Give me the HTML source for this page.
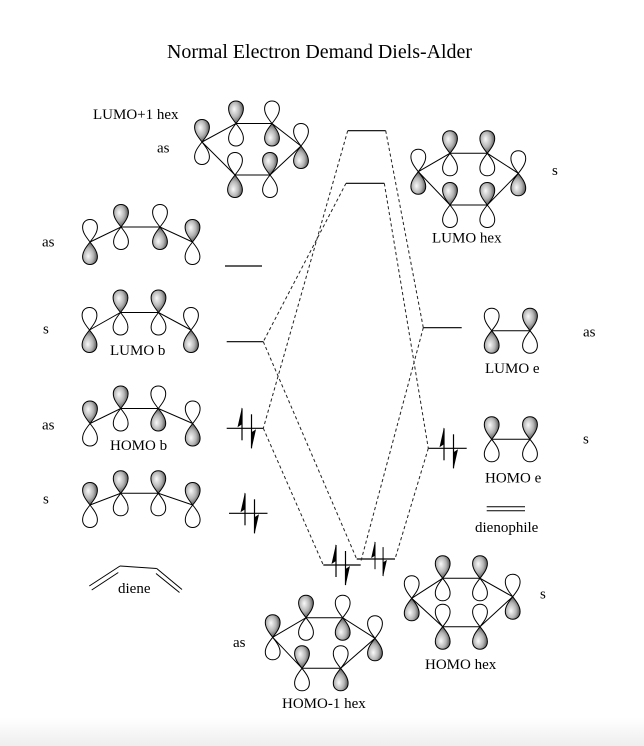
<!DOCTYPE html>
<html>
<head>
<meta charset="utf-8">
<style>
  html,body{margin:0;padding:0;background:#fff;}
  svg{display:block;}
  text{font-family:"Liberation Serif","Times New Roman",serif;fill:#000;}
</style>
</head>
<body>
<svg width="644" height="746" viewBox="0 0 644 746" xmlns="http://www.w3.org/2000/svg">
<defs>
  <radialGradient id="g" cx="0.42" cy="0.42" r="0.68" fx="0.38" fy="0.36">
    <stop offset="0" stop-color="#fafafa"/>
    <stop offset="0.5" stop-color="#b4b4b4"/>
    <stop offset="1" stop-color="#333"/>
  </radialGradient>
  <linearGradient id="shade" x1="0" y1="0" x2="0" y2="1">
    <stop offset="0" stop-color="#ffffff"/>
    <stop offset="1" stop-color="#eeeeee"/>
  </linearGradient>
  <path id="L" d="M0,0 C-3,-4 -7.4,-9 -7.4,-14.8 C-7.4,-19.8 -4,-22.5 0,-22.5 C4,-22.5 7.4,-19.8 7.4,-14.8 C7.4,-9 3,-4 0,0Z" stroke="#000" stroke-width="1"/>
  <g id="A"><use href="#L" fill="url(#g)"/><use href="#L" fill="#fff" transform="scale(1,-1)"/></g>
  <g id="B"><use href="#L" fill="#fff"/><use href="#L" fill="url(#g)" transform="scale(1,-1)"/></g>
  <g id="E">
    <line x1="0" y1="-20" x2="0" y2="12" stroke="#000" stroke-width="1.2"/>
    <polygon points="0,-21 -4.5,-1 0,-4" fill="#000"/>
    <line x1="9.5" y1="-14" x2="9.5" y2="20" stroke="#000" stroke-width="1.2"/>
    <polygon points="9.5,21 14,1 9.5,4" fill="#000"/>
  </g>
</defs>

<rect x="0" y="718" width="644" height="28" fill="url(#shade)"/>

<!-- Title -->
<text x="167" y="58" font-size="20" textLength="305" lengthAdjust="spacingAndGlyphs">Normal Electron Demand Diels-Alder</text>

<!-- Labels -->
<g font-size="15">
  <text x="93" y="119">LUMO+1 hex</text>
  <text x="157" y="152.5">as</text>
  <text x="42" y="246.5">as</text>
  <text x="43" y="333.5">s</text>
  <text x="110" y="355">LUMO b</text>
  <text x="42" y="429.5">as</text>
  <text x="110" y="450">HOMO b</text>
  <text x="43" y="503.5">s</text>
  <text x="118" y="593">diene</text>
  <text x="432" y="242.5">LUMO hex</text>
  <text x="552" y="175">s</text>
  <text x="583" y="336.5">as</text>
  <text x="485" y="373">LUMO e</text>
  <text x="583" y="443.5">s</text>
  <text x="485" y="482.5">HOMO e</text>
  <text x="475" y="532">dienophile</text>
  <text x="233" y="647">as</text>
  <text x="282" y="708">HOMO-1 hex</text>
  <text x="425" y="669">HOMO hex</text>
  <text x="540" y="598.5">s</text>
</g>

<!-- Energy levels -->
<g stroke="#000" stroke-width="1.2">
  <line x1="225" y1="266" x2="262" y2="266"/>
  <line x1="226.7" y1="341.7" x2="263.3" y2="341.7"/>
  <line x1="226.7" y1="428.3" x2="263.3" y2="428.3"/>
  <line x1="229" y1="513.3" x2="267.5" y2="513.3"/>
  <line x1="347.7" y1="130.7" x2="385.7" y2="130.7"/>
  <line x1="346" y1="183.3" x2="384.3" y2="183.3"/>
  <line x1="423.3" y1="327.7" x2="461.7" y2="327.7"/>
  <line x1="428.3" y1="448.3" x2="466.7" y2="448.3"/>
  <line x1="323.3" y1="565" x2="360.7" y2="565"/>
  <line x1="356.7" y1="559" x2="395" y2="559"/>
  <line x1="486.7" y1="506.7" x2="525" y2="506.7" stroke-width="1"/>
  <line x1="486.7" y1="510.7" x2="525" y2="510.7" stroke-width="1"/>
</g>

<!-- Dashed correlation lines -->
<g stroke="#222" stroke-width="1" stroke-dasharray="3.2,2.6" fill="none">
  <line x1="347.7" y1="130.7" x2="263.3" y2="428.3"/>
  <line x1="346" y1="183.3" x2="263.3" y2="341.7"/>
  <line x1="263.3" y1="341.7" x2="356.7" y2="559"/>
  <line x1="263.3" y1="428.3" x2="323.3" y2="565"/>
  <line x1="385.7" y1="130.7" x2="423.3" y2="327.7"/>
  <line x1="384.3" y1="183.3" x2="428.3" y2="448.3"/>
  <line x1="423.3" y1="327.7" x2="360.7" y2="562"/>
  <line x1="428.3" y1="448.3" x2="395" y2="559"/>
</g>

<!-- Electrons -->
<use href="#E" transform="translate(242,428.3)"/>
<use href="#E" transform="translate(245,513.3)"/>
<use href="#E" transform="translate(444,448.3)"/>
<use href="#E" transform="translate(336,565)"/>
<use href="#E" transform="translate(375,559) scale(0.85)"/>

<!-- Diene skeleton -->
<g stroke="#000" stroke-width="1" fill="none">
  <line x1="89.3" y1="586" x2="120" y2="566"/>
  <line x1="91.7" y1="590" x2="118.3" y2="572.5"/>
  <line x1="120" y1="566" x2="156.7" y2="568.5"/>
  <line x1="156.7" y1="568.5" x2="182" y2="589.5"/>
  <line x1="156" y1="573.5" x2="179.5" y2="592.5"/>
</g>

<!-- Bonds -->
<g stroke="#000" stroke-width="1" fill="none">
  <polygon points="202,142 236,123.5 272,123.5 301,146 270,175 235,175"/>
  <polyline points="90,242 121,227 160,227 192.5,242"/>
  <polyline points="89.5,330 120.5,312.5 158.5,312.5 191,330"/>
  <polyline points="90,423.5 120.7,408.5 158.3,408.5 192.7,423.5"/>
  <polyline points="90,505 120.7,493.3 158.3,493.3 192.7,505"/>
  <polygon points="418.3,171.7 450,153.3 487.3,153.3 518.3,173.3 487.3,205 450,205"/>
  <line x1="491.7" y1="330.7" x2="530" y2="330.7"/>
  <line x1="491.7" y1="439.3" x2="530" y2="439.3"/>
  <polygon points="272.7,637.3 306,617.7 342.7,617.7 375,638.3 340.7,668.3 302,668.3"/>
  <polygon points="411.7,598.3 442.7,578.3 480,578.3 512.7,596.7 480,626.7 442.7,626.7"/>
</g>

<!-- LUMO+1 hex -->
<use href="#A" x="202" y="142"/>
<use href="#A" x="236" y="123.5"/>
<use href="#B" x="272" y="123.5"/>
<use href="#B" x="301" y="146"/>
<use href="#A" x="270" y="175"/>
<use href="#B" x="235" y="175"/>

<!-- diene as -->
<use href="#B" x="90" y="242"/>
<use href="#A" x="121" y="227"/>
<use href="#B" x="160" y="227"/>
<use href="#A" x="192.5" y="242"/>

<!-- LUMO b -->
<use href="#B" x="89.5" y="330"/>
<use href="#A" x="120.5" y="312.5"/>
<use href="#A" x="158.5" y="312.5"/>
<use href="#B" x="191" y="330"/>

<!-- HOMO b -->
<use href="#A" x="90" y="423.5"/>
<use href="#A" x="120.7" y="408.5"/>
<use href="#B" x="158.3" y="408.5"/>
<use href="#B" x="192.7" y="423.5"/>

<!-- diene s -->
<use href="#A" x="90" y="505"/>
<use href="#A" x="120.7" y="493.3"/>
<use href="#A" x="158.3" y="493.3"/>
<use href="#A" x="192.7" y="505"/>

<!-- LUMO hex -->
<use href="#B" x="418.3" y="171.7"/>
<use href="#A" x="450" y="153.3"/>
<use href="#A" x="487.3" y="153.3"/>
<use href="#B" x="518.3" y="173.3"/>
<use href="#A" x="450" y="205"/>
<use href="#A" x="487.3" y="205"/>

<!-- LUMO e -->
<use href="#B" x="491.7" y="330.7"/>
<use href="#A" x="530" y="330.7"/>

<!-- HOMO e -->
<use href="#A" x="491.7" y="439.3"/>
<use href="#A" x="530" y="439.3"/>

<!-- HOMO-1 hex -->
<use href="#A" x="272.7" y="637.3"/>
<use href="#A" x="306" y="617.7"/>
<use href="#B" x="342.7" y="617.7"/>
<use href="#B" x="375" y="638.3"/>
<use href="#A" x="302" y="668.3"/>
<use href="#B" x="340.7" y="668.3"/>

<!-- HOMO hex -->
<use href="#B" x="411.7" y="598.3"/>
<use href="#A" x="442.7" y="578.3"/>
<use href="#A" x="480" y="578.3"/>
<use href="#B" x="512.7" y="596.7"/>
<use href="#B" x="442.7" y="626.7"/>
<use href="#B" x="480" y="626.7"/>

</svg>
</body>
</html>
